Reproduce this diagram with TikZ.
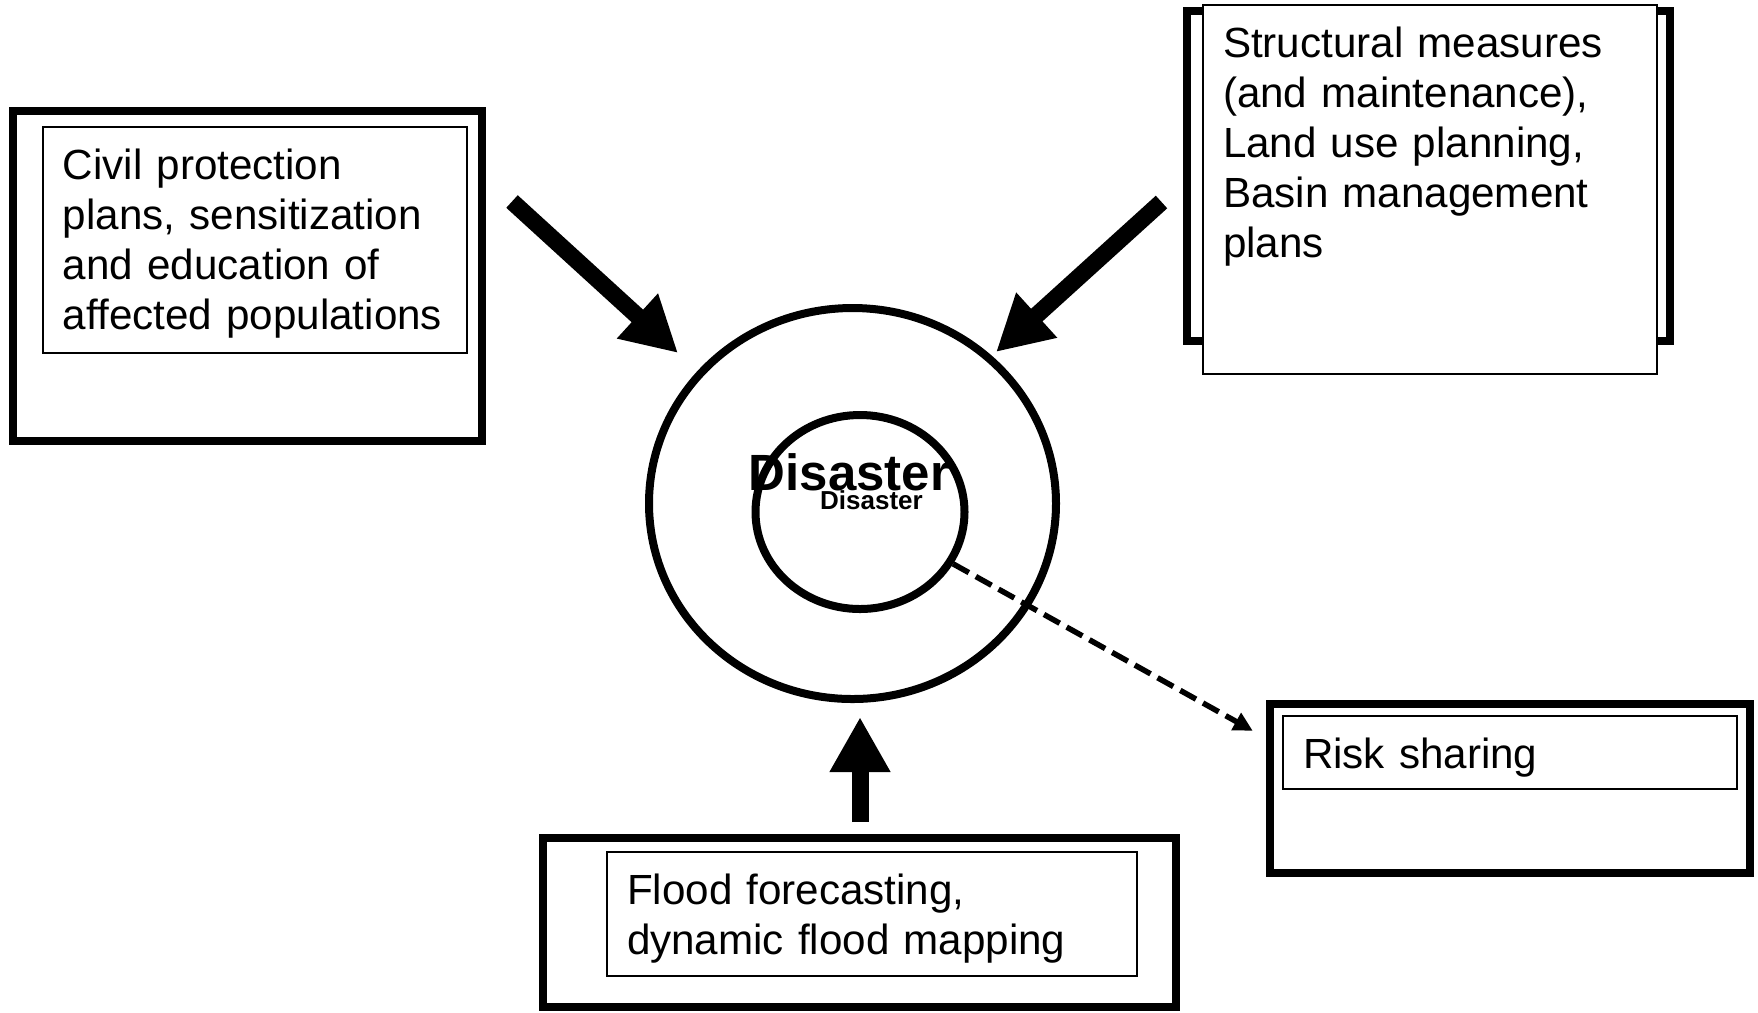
\documentclass[tikz,border=0pt]{standalone}
\usepackage{fontspec}
\setmainfont{Liberation Sans}
\usetikzlibrary{shapes.geometric,arrows.meta}

\begin{document}
\begin{tikzpicture}[
            frame/.style = {draw, line width=0.08cm, fill=white, inner sep=0pt, outer sep=0pt},
            textbox/.style = {draw, line width=0.5pt, fill=white, anchor=north west, align=left,
                inner xsep=0.2cm, inner ysep=0.21cm, outer sep=0pt, text height=0.31cm,
                font=\fontsize{12}{14.23}\selectfont},
            ring/.style = {draw, ellipse, line width=0.08cm, inner sep=0pt},
            bigarrow/.style = {line width=0.17cm, -{Triangle[length=0.55cm, width=0.57cm]}},
            riskarrow/.style = {line width=0.055cm, dash pattern=on 0.18cm off 0.08cm,
                -{Triangle[length=0.19cm, width=0.19cm]}}]
\useasboundingbox (0,0) rectangle (17.58,-10.12);

\node[frame, minimum width=4.685cm, minimum height=3.295cm] (civilframe) at (2.4725,-2.7575) {};
\node[frame, minimum width=4.825cm, minimum height=3.30cm] (structframe) at (14.2825,-1.76) {};
\node[frame, minimum width=6.33cm, minimum height=1.695cm] (floodframe) at (8.595,-9.2225) {};
\node[frame, minimum width=4.80cm, minimum height=1.69cm] (riskframe) at (15.10,-7.885) {};

\node[textbox, text width=3.84cm, text depth=1.53cm] (civil) at (0.43,-1.27)
    {Civil protection\\ plans, sensitization\\ and education of\\ affected populations};
\node[textbox, text width=4.14cm, text depth=2.96cm] (struct) at (12.03,-0.05)
    {Structural measures\\ (and maintenance),\\ Land use planning,\\ Basin management\\ plans};
\node[textbox, text width=4.90cm, text depth=0.51cm] (flood) at (6.07,-8.52)
    {Flood forecasting,\\ dynamic flood mapping};
\node[textbox, text width=4.14cm, text depth=0cm] (risk) at (12.83,-7.16)
    {Risk sharing};

\node[ring, minimum width=4.07cm, minimum height=3.91cm] (disaster) at (8.525,-5.035) {};
\node[ring, minimum width=2.09cm, minimum height=1.94cm] (core) at (8.60,-5.12) {};
\node[anchor=base, font=\bfseries\fontsize{14.5}{17}\selectfont] (disasterbig) at (8.495,-4.90) {Disaster};
\node[anchor=base, font=\bfseries\fontsize{7.4}{9}\selectfont] (disastersmall) at (8.715,-5.09) {Disaster};

\coordinate (civiltail) at (5.12,-2.015);
\coordinate (civiltip) at (6.78,-3.53);
\coordinate (structtail) at (11.615,-2.02);
\coordinate (structtip) at (9.96,-3.52);
\coordinate (floodtail) at (8.60,-8.22);
\coordinate (floodtip) at (8.60,-7.17);
\coordinate (riskend) at (12.527,-7.307);

\draw[bigarrow] (civiltail) -- (civiltip);
\draw[bigarrow] (structtail) -- (structtip);
\draw[bigarrow] (floodtail) -- (floodtip);
\draw[riskarrow] (core) -- (riskend);

\end{tikzpicture}
\end{document}
